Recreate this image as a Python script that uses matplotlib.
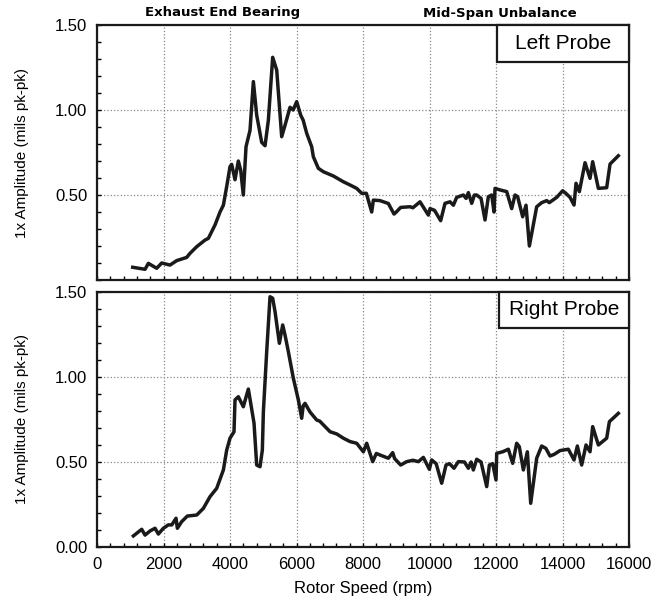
import matplotlib.pyplot as plt
from matplotlib.patches import Rectangle
from matplotlib.ticker import MultipleLocator, FormatStrFormatter

plt.rcParams['font.family'] = ['Liberation Sans', 'DejaVu Sans']

# Left probe 1x amplitude vs rotor speed
left_rpm = [1073, 1444, 1544, 1795, 1945, 2195, 2396, 2697, 2797, 2998,
            3248, 3348, 3549, 3699, 3800, 3900, 4000, 4050, 4150, 4250,
            4320, 4400, 4481, 4601, 4702, 4802, 4952, 5053, 5153, 5283,
            5404, 5554, 5654, 5805, 5900, 6005, 6125, 6200, 6306, 6456,
            6506, 6656, 6807, 7107, 7408, 7609, 7810, 7960, 8100, 8261,
            8311, 8511, 8762, 8932, 9000, 9133, 9414, 9500, 9714, 9965,
            10015, 10150, 10335, 10466, 10617, 10717, 10817, 11018, 11100, 11168,
            11268, 11350, 11419, 11550, 11669, 11769, 11870, 11940, 11970, 12120,
            12321, 12471, 12571, 12650, 12802, 12902, 13003, 13223, 13373, 13524,
            13600, 13824, 14004, 14100, 14226, 14346, 14406, 14506, 14677, 14827,
            14907, 15078, 15328, 15429, 15679]
left_amp = [0.075, 0.063, 0.098, 0.069, 0.100, 0.088, 0.114, 0.133, 0.157, 0.196,
            0.235, 0.245, 0.324, 0.400, 0.440, 0.550, 0.667, 0.680, 0.590, 0.700,
            0.647, 0.500, 0.784, 0.880, 1.167, 0.970, 0.810, 0.790, 0.940, 1.310,
            1.235, 0.843, 0.910, 1.016, 1.000, 1.049, 0.970, 0.940, 0.863, 0.784,
            0.725, 0.657, 0.637, 0.612, 0.578, 0.559, 0.539, 0.510, 0.510, 0.400,
            0.470, 0.467, 0.450, 0.388, 0.400, 0.427, 0.431, 0.425, 0.460, 0.382,
            0.420, 0.410, 0.349, 0.451, 0.460, 0.440, 0.486, 0.500, 0.480, 0.514,
            0.451, 0.500, 0.500, 0.480, 0.353, 0.490, 0.500, 0.400, 0.539, 0.530,
            0.520, 0.420, 0.500, 0.490, 0.372, 0.440, 0.200, 0.431, 0.455, 0.467,
            0.455, 0.486, 0.525, 0.510, 0.486, 0.441, 0.569, 0.520, 0.690, 0.598,
            0.696, 0.539, 0.543, 0.682, 0.731]

# Right probe 1x amplitude vs rotor speed
right_rpm = [1093, 1344, 1444, 1600, 1745, 1845, 1995, 2145, 2250, 2376,
             2416, 2546, 2717, 2998, 3198, 3398, 3599, 3800, 3900, 4000,
             4120, 4150, 4250, 4400, 4551, 4722, 4802, 4902, 4972, 5003,
             5103, 5203, 5283, 5354, 5484, 5584, 5654, 5754, 5905, 6055,
             6155, 6200, 6256, 6406, 6606, 6700, 7008, 7208, 7408, 7609,
             7810, 8010, 8111, 8291, 8400, 8511, 8762, 8892, 8950, 9133,
             9314, 9500, 9664, 9815, 9995, 10065, 10200, 10366, 10496, 10600,
             10737, 10867, 11050, 11168, 11250, 11318, 11419, 11550, 11720, 11800,
             11900, 12000, 12020, 12200, 12371, 12501, 12621, 12700, 12822, 12942,
             13043, 13223, 13373, 13500, 13624, 13750, 13925, 14175, 14346, 14446,
             14576, 14707, 14827, 14907, 15078, 15328, 15409, 15679]
right_amp = [0.065, 0.104, 0.070, 0.095, 0.110, 0.076, 0.110, 0.130, 0.130, 0.169,
             0.110, 0.149, 0.182, 0.188, 0.227, 0.296, 0.345, 0.453, 0.570, 0.640,
             0.678, 0.865, 0.884, 0.825, 0.929, 0.728, 0.482, 0.472, 0.570, 0.796,
             1.149, 1.472, 1.463, 1.384, 1.198, 1.306, 1.247, 1.149, 0.992, 0.865,
             0.757, 0.830, 0.845, 0.794, 0.747, 0.740, 0.678, 0.665, 0.640, 0.620,
             0.610, 0.560, 0.610, 0.502, 0.550, 0.541, 0.522, 0.555, 0.520, 0.482,
             0.502, 0.510, 0.502, 0.527, 0.457, 0.512, 0.490, 0.375, 0.482, 0.490,
             0.463, 0.502, 0.500, 0.463, 0.500, 0.453, 0.516, 0.500, 0.355, 0.482,
             0.490, 0.394, 0.551, 0.560, 0.575, 0.492, 0.610, 0.590, 0.453, 0.560,
             0.257, 0.522, 0.594, 0.580, 0.535, 0.545, 0.567, 0.575, 0.512, 0.594,
             0.482, 0.600, 0.560, 0.708, 0.600, 0.640, 0.737, 0.786]

ink = '#1a1a1a'

fig = plt.figure(figsize=(6.65, 6.04), dpi=100)
ax_top = fig.add_axes([0.1459, 0.5364, 0.8, 0.4222])
ax_bot = fig.add_axes([0.1459, 0.0944, 0.8, 0.4222])

panels = [(ax_top, left_rpm, left_amp, 'Left Probe', 0.752, 0.145),
          (ax_bot, right_rpm, right_amp, 'Right Probe', 0.756, 0.141)]

for ax, rpm, amp, name, box_x, box_h in panels:
    ax.plot(rpm, amp, color=ink, lw=2.5, solid_joinstyle='round')
    ax.set_xlim(0, 16000)
    ax.set_ylim(0, 1.5)
    ax.xaxis.set_major_locator(MultipleLocator(2000))
    ax.xaxis.set_minor_locator(MultipleLocator(400))
    ax.yaxis.set_major_locator(MultipleLocator(0.5))
    ax.yaxis.set_minor_locator(MultipleLocator(0.1))
    ax.yaxis.set_major_formatter(FormatStrFormatter('%.2f'))
    ax.grid(True, which='major', color='#888888', ls=':', lw=0.9)
    ax.tick_params(which='both', direction='in', top=False, right=False,
                   labelsize=12, length=3, width=1, pad=7)
    for sp in ax.spines.values():
        sp.set_linewidth(1.6)
        sp.set_color(ink)
    ax.set_ylabel('1x Amplitude (mils pk-pk)', fontsize=11)
    ax.yaxis.set_label_coords(-0.128, 0.5)

    # probe name in a box against the top-right corner
    ax.add_patch(Rectangle((box_x, 1 - box_h), 1 - box_x, box_h,
                           transform=ax.transAxes, fc='white', ec=ink,
                           lw=1.6, zorder=5, clip_on=False))
    ax.text(box_x + (1 - box_x) / 2, 1 - box_h / 2, name,
            transform=ax.transAxes, ha='center', va='center',
            fontsize=15, zorder=6)

# top panel shows no 0.00 label and no x labels
ax_top.set_yticks([0.5, 1.0, 1.5])
ax_top.tick_params(axis='x', labelbottom=False)
ax_bot.set_xlabel('Rotor Speed (rpm)', fontsize=12, labelpad=7)

fig.text(0.334, 0.980, 'Exhaust End Bearing', ha='center', va='center',
         fontsize=9.5, fontweight='bold', family='DejaVu Sans')
fig.text(0.752, 0.977, 'Mid-Span Unbalance', ha='center', va='center',
         fontsize=9.5, fontweight='bold', family='DejaVu Sans')

fig.savefig('out.png', dpi=100)
